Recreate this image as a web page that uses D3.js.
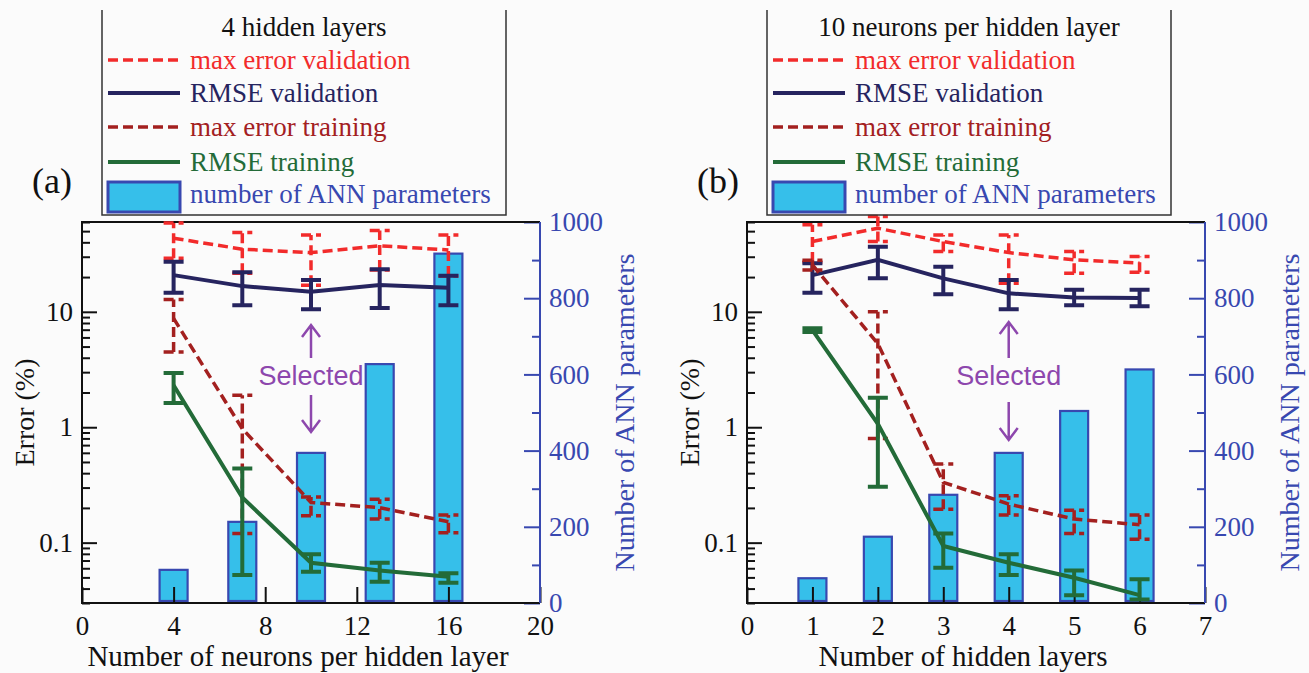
<!doctype html>
<html lang="en">
<head>
<meta charset="utf-8">
<title>ANN size selection</title>
<script src="https://cdn.jsdelivr.net/npm/d3@7"></script>
<style>
body { margin: 0; background: #fbfbfb; }
svg { display: block; font-family: "Liberation Serif", "Times New Roman", serif; }
</style>
</head>
<body>
<svg id="chart" width="1309" height="673"></svg>
<script>

// ---- panel (a): 4 hidden layers, varying neurons per layer ----
const neurons = [4, 7, 10, 13, 16];
const paramsA = [87, 213, 394, 627, 917];
const maxValA = [43.4, 34.9, 32.6, 37.3, 34.4];
const maxValALo = [29.1, 21.6, 17.0, 23.0, 20.4];
const maxValAHi = [58.8, 48.6, 46.4, 50.6, 46.4];
const rmseValA = [20.8, 16.7, 14.9, 17.1, 16.2];
const rmseValALo = [14.6, 11.4, 10.5, 10.8, 11.4];
const rmseValAHi = [27.2, 22.0, 18.9, 23.4, 20.5];
const maxTrA = [8.77, 0.97, 0.223, 0.201, 0.152];
const maxTrALo = [4.49, 0.12, 0.171, 0.16, 0.122];
const maxTrAHi = [12.8, 1.89, 0.249, 0.238, 0.174];
const rmseTrA = [2.31, 0.246, 0.067, 0.0575, 0.0506];
const rmseTrALo = [1.62, 0.0524, 0.056, 0.0458, 0.0449];
const rmseTrAHi = [2.95, 0.44, 0.0793, 0.067, 0.0542];

// ---- panel (b): 10 neurons per hidden layer, varying layers ----
const layers = [1, 2, 3, 4, 5, 6];
const paramsB = [65, 174, 284, 394, 504, 613];
const maxValB = [40.6, 53.0, 40.6, 32.6, 28.2, 26.4];
const maxValBLo = [27.0, 40.6, 33.3, 17.7, 21.6, 22.0];
const maxValBHi = [56.8, 67.0, 46.4, 46.4, 33.3, 30.1];
const rmseValB = [20.8, 28.2, 19.5, 14.45, 13.3, 13.2];
const rmseValBLo = [14.6, 19.5, 14.2, 10.5, 11.4, 11.2];
const rmseValBHi = [26.4, 36.7, 24.6, 18.9, 15.5, 15.5];
const maxTrB = [25.5, 5.3, 0.333, 0.216, 0.16, 0.143];
const maxTrBLo = [23.0, 0.80, 0.195, 0.174, 0.12, 0.107];
const maxTrBHi = [28.0, 10.0, 0.481, 0.255, 0.191, 0.174];
const rmseTrB = [6.93, 1.07, 0.0935, 0.067, 0.0497, 0.0351];
const rmseTrBLo = [6.7, 0.305, 0.0607, 0.0524, 0.0351, 0.0322];
const rmseTrBHi = [7.2, 1.8, 0.12, 0.0793, 0.0575, 0.0481];

const xTicksA = [0, 4, 8, 12, 16, 20];
const xTicksB = [0, 1, 2, 3, 4, 5, 6, 7];
const errMajor = [0.1, 1, 10];
const paramMajor = [0, 200, 400, 600, 800, 1000];
const paramMinor = [100, 300, 500, 700, 900];

const legendNames = ['max error validation', 'RMSE validation', 'max error training', 'RMSE training'];

// colours / styles
const RED = '#f22b2b', NAVY = '#26245f', DARKRED = '#a3201f', GREEN = '#236b38';
const BAR_FILL = '#36bfea', BLUE = '#3848b0', PURPLE = '#8d47ad';
const SERIF = '"Liberation Serif", "Times New Roman", serif';
const SANS = '"Liberation Sans", Arial, sans-serif';

const W = 458, H = 381, TOP = 222;

const svg = d3.select('#chart');

function drawPanel(p) {
  const g = svg.append('g').attr('transform', `translate(${p.left},${TOP})`);
  const x = d3.scaleLinear().domain(p.xDomain).range([0, W]);
  const y = d3.scaleLog().domain([0.03, 60]).range([H, 0]);
  const yR = d3.scaleLinear().domain([0, 1000]).range([H, 0]);

  // parameter bars (right axis)
  g.selectAll('rect.bar').data(p.xs).join('rect')
    .attr('class', 'bar')
    .attr('x', d => x(d) - 14)
    .attr('width', 28)
    .attr('y', (d, i) => yR(p.params[i]))
    .attr('height', (d, i) => yR(0) - yR(p.params[i]) - 2)
    .attr('fill', BAR_FILL)
    .attr('stroke', BLUE)
    .attr('stroke-width', 2.2);

  // left log axis
  const minor = y.ticks().filter(v => !errMajor.some(m => Math.abs(m - v) < 1e-9));
  const styleAxis = (sel, color) => {
    sel.attr('font-size', 27).attr('font-family', SERIF).attr('color', color);
    sel.select('.domain').remove();
    sel.selectAll('.tick line').attr('stroke-width', 2);
  };
  g.append('g')
    .call(d3.axisLeft(y).tickValues(minor).tickSize(-8).tickFormat(''))
    .call(styleAxis, '#111');
  g.append('g')
    .call(d3.axisLeft(y).tickValues(errMajor).tickSize(-15).tickPadding(9).tickFormat(d3.format('~g')))
    .call(styleAxis, '#111');

  // right parameter axis
  g.append('g').attr('transform', `translate(${W},0)`)
    .call(d3.axisRight(yR).tickValues(paramMinor).tickSize(-8).tickFormat(''))
    .call(styleAxis, BLUE);
  g.append('g').attr('transform', `translate(${W},0)`)
    .call(d3.axisRight(yR).tickValues(paramMajor).tickSize(-16).tickPadding(9).tickFormat(d3.format('d')))
    .call(styleAxis, BLUE);

  // bottom axis
  g.append('g').attr('transform', `translate(0,${H})`)
    .call(d3.axisBottom(x).tickValues(p.xTicks).tickSize(-16).tickPadding(13).tickFormat(d3.format('d')))
    .call(styleAxis, '#111');

  // frame
  g.append('path').attr('d', `M${W},0H0V${H}H${W}`)
    .attr('fill', 'none').attr('stroke', '#111').attr('stroke-width', 2);
  g.append('line').attr('x1', W).attr('x2', W).attr('y1', 0).attr('y2', H)
    .attr('stroke', BLUE).attr('stroke-width', 2);

  // error series with error bars
  p.series.forEach(s => {
    const pts = p.xs.map((d, i) => ({ x: d, v: s.v[i], lo: s.lo[i], hi: s.hi[i] }));
    const sg = g.append('g')
      .attr('fill', 'none')
      .attr('stroke', s.color)
      .attr('stroke-width', s.width)
      .attr('stroke-dasharray', s.dash);
    sg.append('path').attr('d', d3.line().x(d => x(d.x)).y(d => y(d.v))(pts));
    sg.selectAll('path.err').data(pts).join('path')
      .attr('class', 'err')
      .attr('d', d => `M${x(d.x)},${y(d.lo)}V${y(d.hi)}` +
        `M${x(d.x) - 10},${y(d.hi)}h20M${x(d.x) - 10},${y(d.lo)}h20`);
  });

  // "Selected" annotation
  const sx = x(p.selected);
  const a = p.arrow;
  const ag = g.append('g').attr('stroke', PURPLE).attr('stroke-width', 2.5).attr('fill', 'none');
  ag.append('path').attr('d', `M${sx},${a[1]}V${a[0]}M${sx - 9},${a[0] + 12}L${sx},${a[0]}L${sx + 9},${a[0] + 12}`);
  ag.append('path').attr('d', `M${sx},${a[3]}V${a[4]}M${sx - 9},${a[4] - 12}L${sx},${a[4]}L${sx + 9},${a[4] - 12}`);
  g.append('text').attr('x', sx).attr('y', a[2]).attr('text-anchor', 'middle')
    .attr('font-family', SANS).attr('font-size', 27).attr('fill', PURPLE)
    .text('Selected');

  // axis titles
  g.append('text').attr('transform', `translate(-48,${H / 2}) rotate(-90)`)
    .attr('text-anchor', 'middle').attr('font-size', 28).attr('fill', '#111')
    .text('Error (%)');
  g.append('text').attr('transform', `translate(${W + 94},${H / 2}) rotate(-90)`)
    .attr('text-anchor', 'middle').attr('font-size', 28).attr('fill', BLUE)
    .text('Number of ANN parameters');
  g.append('text').attr('x', W / 2 - 13).attr('y', 444)
    .attr('text-anchor', 'middle').attr('font-size', 29).attr('fill', '#111')
    .text(p.xTitle);

  // panel label
  svg.append('text').attr('x', p.left - 50).attr('y', 193)
    .attr('font-size', 36).attr('fill', '#111').text(p.label);

  // legend box (top edge is cut off by the figure)
  const lx = p.left + 20;
  const lg = svg.append('g').attr('transform', `translate(${lx},0)`);
  lg.append('path').attr('d', 'M0,10V215H404V10')
    .attr('fill', 'none').attr('stroke', '#333').attr('stroke-width', 1.5);
  lg.append('text').attr('x', 202).attr('y', 36).attr('text-anchor', 'middle')
    .attr('font-size', 27).attr('fill', '#111').text(p.legendTitle);
  const rowY = [60, 93, 127, 162];
  p.series.forEach((s, i) => {
    lg.append('line').attr('x1', 6).attr('x2', 78).attr('y1', rowY[i]).attr('y2', rowY[i])
      .attr('stroke', s.color).attr('stroke-width', s.width).attr('stroke-dasharray', s.dash);
    lg.append('text').attr('x', 88).attr('y', rowY[i] + 9)
      .attr('font-size', 27).attr('fill', s.color).text(s.name);
  });
  lg.append('rect').attr('x', 6).attr('y', 182).attr('width', 72).attr('height', 30)
    .attr('fill', BAR_FILL).attr('stroke', BLUE).attr('stroke-width', 3);
  lg.append('text').attr('x', 88).attr('y', 203)
    .attr('font-size', 27).attr('fill', BLUE).text('number of ANN parameters');
}

function makeSeries(v) {
  const colors = [RED, NAVY, DARKRED, GREEN];
  const dashes = ['10,5', null, '10,5', null];
  const widths = [3.5, 4, 3.5, 4];
  return v.map((d, i) => ({
    name: legendNames[i], color: colors[i], dash: dashes[i], width: widths[i],
    v: d[0], lo: d[1], hi: d[2]
  }));
}

drawPanel({
  left: 82, label: '(a)', legendTitle: '4 hidden layers',
  xDomain: [0, 20], xTicks: xTicksA, xs: neurons, params: paramsA,
  xTitle: 'Number of neurons per hidden layer',
  selected: 10, arrow: [103, 136, 163, 173, 210],
  series: makeSeries([
    [maxValA, maxValALo, maxValAHi],
    [rmseValA, rmseValALo, rmseValAHi],
    [maxTrA, maxTrALo, maxTrAHi],
    [rmseTrA, rmseTrALo, rmseTrAHi]
  ])
});

drawPanel({
  left: 747, label: '(b)', legendTitle: '10 neurons per hidden layer',
  xDomain: [0, 7], xTicks: xTicksB, xs: layers, params: paramsB,
  xTitle: 'Number of hidden layers',
  selected: 4, arrow: [100, 136, 163, 180, 218],
  series: makeSeries([
    [maxValB, maxValBLo, maxValBHi],
    [rmseValB, rmseValBLo, rmseValBHi],
    [maxTrB, maxTrBLo, maxTrBHi],
    [rmseTrB, rmseTrBLo, rmseTrBHi]
  ])
});

</script>
</body>
</html>
